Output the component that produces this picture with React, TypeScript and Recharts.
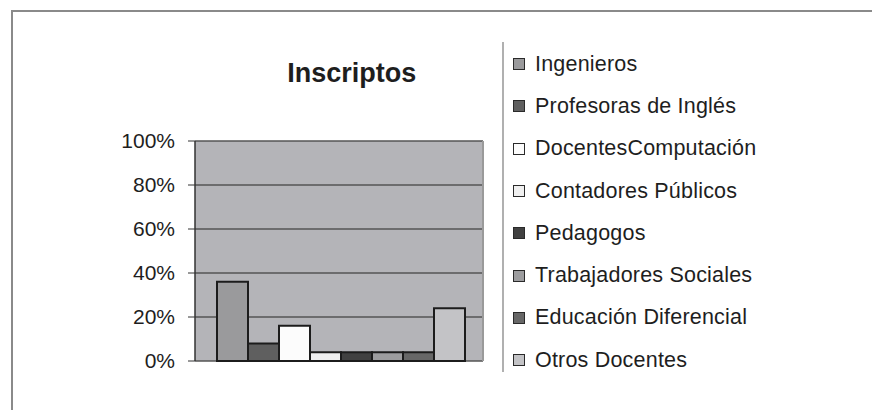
import React from 'react';
import { BarChart, Bar, XAxis, YAxis, CartesianGrid, Legend } from 'recharts';

// one category, eight series (Excel-style clustered column)
const categories = ['Inscriptos'];
const seriesNames = [
  'Ingenieros',
  'Profesoras de Inglés',
  'DocentesComputación',
  'Contadores Públicos',
  'Pedagogos',
  'Trabajadores Sociales',
  'Educación Diferencial',
  'Otros Docentes',
];
const seriesValues = [36, 8, 16, 4, 4, 4, 4, 24];
const seriesColors = ['#9a9a9c', '#5f5f5f', '#fcfcfc', '#f0f0f0', '#414141', '#9d9d9f', '#676767', '#c3c3c6'];
const yTicks = [0, 20, 40, 60, 80, 100];

const FONT = '"Liberation Sans", Arial, Helvetica, sans-serif';

const data = categories.map(name => {
  const row: Record<string, string | number> = { name };
  seriesValues.forEach((v, i) => { row['s' + i] = v; });
  return row;
});

// legend keeps the series order (recharts would sort by name)
const LegendList = () => (
  <div style={{ fontFamily: FONT, fontSize: 21.5, letterSpacing: 0.2, color: '#1e1e1e' }}>
    {seriesNames.map((s, i) => (
      <div key={s} style={{ height: 42.3, display: 'flex', alignItems: 'center', whiteSpace: 'nowrap' }}>
        <div style={{ width: 10, height: 10, border: '1.5px solid #2a2a2a', backgroundColor: seriesColors[i], marginRight: 10 }} />
        <span>{s}</span>
      </div>
    ))}
  </div>
);

export default function App() {
  return (
    <div style={{ position: 'absolute', left: 0, top: 0, width: 872, height: 410, background: '#fff', overflow: 'hidden' }}>
      {/* outer frame: left + top edges only */}
      <div style={{ position: 'absolute', left: 11, top: 10, right: 0, bottom: 0, borderLeft: '2px solid #8a8a8a', borderTop: '2px solid #8a8a8a' }} />
      {/* legend separator */}
      <div style={{ position: 'absolute', left: 502, top: 42, width: 2, height: 330, background: '#b0b0b0' }} />
      <div style={{ position: 'absolute', left: 251.7, top: 60, width: 200, textAlign: 'center', fontFamily: FONT, fontWeight: 700, fontSize: 27, lineHeight: '27px', color: '#1e1e1e' }}>
        Inscriptos
      </div>
      <div style={{ position: 'absolute', left: 0, top: 0 }}>
        <BarChart
          width={872}
          height={410}
          data={data}
          margin={{ top: 141, right: 389, bottom: 49, left: 115 }}
          barGap={0}
          barCategoryGap={22}
        >
          <CartesianGrid vertical={false} stroke="#555" strokeWidth={1.5} fill="#b4b4b8" fillOpacity={1} />
          <XAxis dataKey="name" hide />
          <YAxis
            width={80}
            domain={[0, 100]}
            ticks={yTicks}
            interval={0}
            tickFormatter={(v: number) => `${v}%`}
            tickSize={7}
            tickMargin={13}
            tick={{ fill: '#1e1e1e', fontSize: 21, fontFamily: FONT }}
            tickLine={{ stroke: '#333' }}
            axisLine={{ stroke: '#333', strokeWidth: 1.5 }}
          />
          {seriesNames.map((s, i) => (
            <Bar key={s} dataKey={'s' + i} name={s} fill={seriesColors[i]} stroke="#1c1c1c" strokeWidth={2} isAnimationActive={false} />
          ))}
          {/* align center + middle keeps recharts from reserving space for it */}
          <Legend
            layout="horizontal"
            verticalAlign="middle"
            align="center"
            content={<LegendList />}
            wrapperStyle={{ position: 'absolute', left: 513, top: 43, width: 350, height: 'auto' }}
          />
        </BarChart>
      </div>
      {/* plot area right edge */}
      <div style={{ position: 'absolute', left: 482, top: 141, width: 2, height: 220, background: '#9a9a9a' }} />
    </div>
  );
}
